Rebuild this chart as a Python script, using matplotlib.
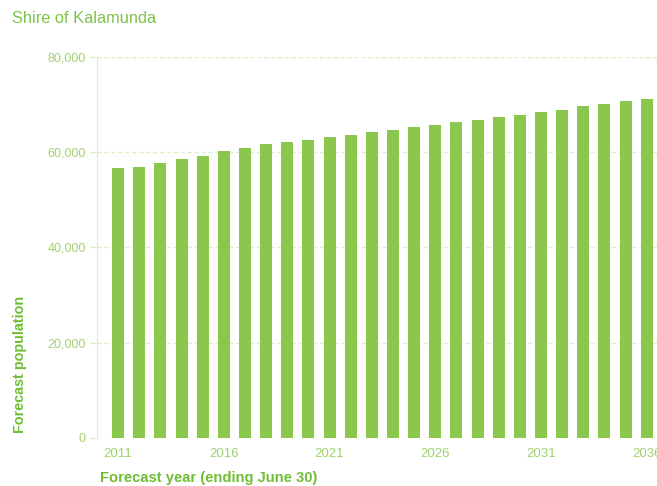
import matplotlib
matplotlib.use("Agg")
import matplotlib.pyplot as plt
from matplotlib.ticker import FuncFormatter

plt.rcParams['font.family'] = ['Liberation Sans', 'DejaVu Sans']

# forecast population, Shire of Kalamunda
years = list(range(2011, 2037))
population = [56600, 56900, 57700, 58500, 59200, 60300, 60800, 61700, 62200, 62600,
              63100, 63600, 64200, 64700, 65200, 65800, 66300, 66800, 67300, 67800,
              68400, 68900, 69600, 70100, 70700, 71200]
xtick_years = [2011, 2016, 2021, 2026, 2031, 2036]
yticks = [0, 20000, 40000, 60000, 80000]

bar_col = '#8ac74c'
tick_col = '#9fd26e'
label_col = '#6fbe35'
grid_col = '#dcefc9'

fig = plt.figure(figsize=(6.57, 4.86), dpi=100)
# axes run past the right edge, the source image is cropped there
ax = fig.add_axes([0.1476, 0.0988, 0.869, 0.784])

ax.bar(years, population, width=0.57, color=bar_col, zorder=2)

ax.set_xlim(2010.0, 2037)
ax.set_ylim(0, 80000)
ax.set_yticks(yticks)
ax.yaxis.set_major_formatter(FuncFormatter(lambda v, p: f'{int(v):,}'))
ax.set_xticks(xtick_years)

ax.grid(axis='y', color=grid_col, linestyle=(0, (3, 2)), linewidth=1, zorder=0)
for s in ['top', 'right', 'bottom']:
    ax.spines[s].set_visible(False)
ax.spines['left'].set_color(grid_col)
ax.tick_params(axis='y', colors=tick_col, length=5, width=1, labelsize=9, pad=3)
ax.tick_params(axis='y', color=grid_col)
ax.tick_params(axis='x', colors=tick_col, length=0, labelsize=9.5, pad=7)

fig.text(0.018, 0.962, 'Shire of Kalamunda', color='#7cc447', fontsize=11.8,
         ha='left', va='center')
fig.text(0.031, 0.25, 'Forecast population', color=label_col, fontsize=10.4,
         fontweight='bold', rotation=90, ha='center', va='center')
fig.text(0.152, 0.016, 'Forecast year (ending June 30)', color=label_col,
         fontsize=10.6, fontweight='bold', ha='left', va='center')

fig.savefig('out.png', dpi=100)
